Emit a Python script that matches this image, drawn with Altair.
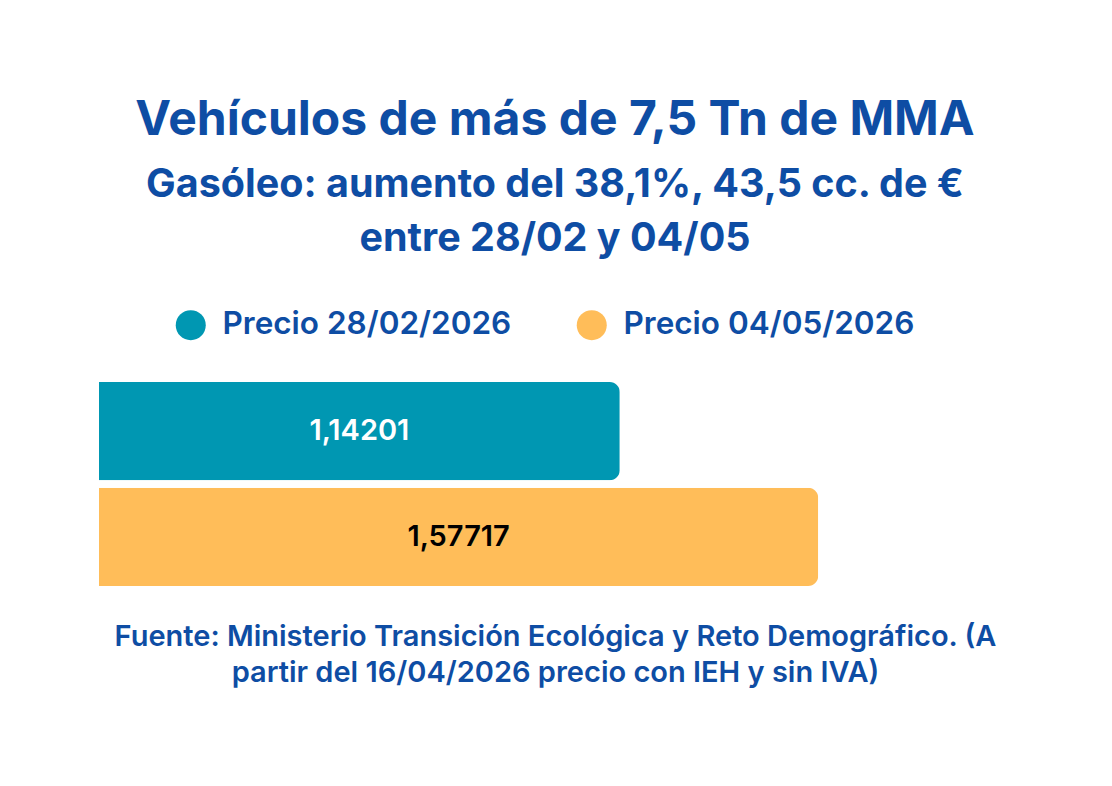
import altair as alt
import pandas as pd

# Values
series = ["Precio 28/02/2026", "Precio 04/05/2026"]
prices = [1.14201, 1.57717]
bar_colors = ["#0097B2", "#FFBD59"]
label_colors = ["#FFFFFF", "#000000"]

title_text = "Vehículos de más de 7,5 Tn de MMA"
subtitle_lines = ["Gasóleo: aumento del 38,1%, 43,5 cc. de €", "entre 28/02 y 04/05"]
footer_lines = [
    "Fuente: Ministerio Transición Ecológica y Reto Demográfico. (A",
    "partir del 16/04/2026 precio con IEH y sin IVA)",
]

BLUE = "#0E4DA4"
FONT = "Inter"

df = pd.DataFrame({"serie": series, "precio": prices, "txt_color": label_colors})

base = alt.Chart(df).transform_calculate(
    mid="datum.precio / 2",
    etiqueta="replace(format(datum.precio, '.5f'), '.', ',')",
)

bars = base.mark_bar(cornerRadiusEnd=10).encode(
    x=alt.X(
        "precio:Q",
        scale=alt.Scale(domain=[0, 2], nice=False),
        axis=alt.Axis(
            title=footer_lines,
            labels=False,
            ticks=False,
            domain=False,
            grid=False,
            titleFont=FONT,
            titleFontSize=29,
            titleFontWeight=600,
            titleColor=BLUE,
            titlePadding=36,
            titleLineHeight=36,
            titleX=456,
            titleAnchor="middle",
        ),
    ),
    y=alt.Y(
        "serie:N",
        sort=series,
        axis=None,
        scale=alt.Scale(paddingInner=0.07, paddingOuter=0),
    ),
    color=alt.Color(
        "serie:N",
        sort=series,
        scale=alt.Scale(domain=series, range=bar_colors),
        legend=alt.Legend(
            title=None,
            orient="none",
            legendX=76,
            legendY=-73,
            direction="horizontal",
            symbolType="circle",
            symbolSize=900,
            symbolStrokeWidth=0,
            labelFont=FONT,
            labelFontSize=31.5,
            labelFontWeight=600,
            labelColor=BLUE,
            labelLimit=0,
            labelOffset=16,
            columnPadding=64,
        ),
    ),
)

labels = base.mark_text(font=FONT, fontSize=29, fontWeight=600).encode(
    x="mid:Q",
    y=alt.Y("serie:N", sort=series),
    text="etiqueta:N",
    color=alt.Color("txt_color:N", scale=None),
)

chart = (
    alt.layer(bars, labels)
    .properties(
        width=912,
        height=204,
        background="white",
        padding={"left": 91, "top": 88, "right": 10, "bottom": 10},
        title=alt.TitleParams(
            text=title_text,
            subtitle=subtitle_lines,
            font=FONT,
            fontSize=48,
            fontWeight=700,
            color=BLUE,
            subtitleFont=FONT,
            subtitleFontSize=39.5,
            subtitleFontWeight=700,
            subtitleColor=BLUE,
            subtitleLineHeight=54,
            subtitlePadding=21,
            anchor="middle",
            offset=51,
        ),
    )
    .configure_view(strokeWidth=0)
)

chart.save("out.html", embed_options={"renderer": "svg", "actions": False})
